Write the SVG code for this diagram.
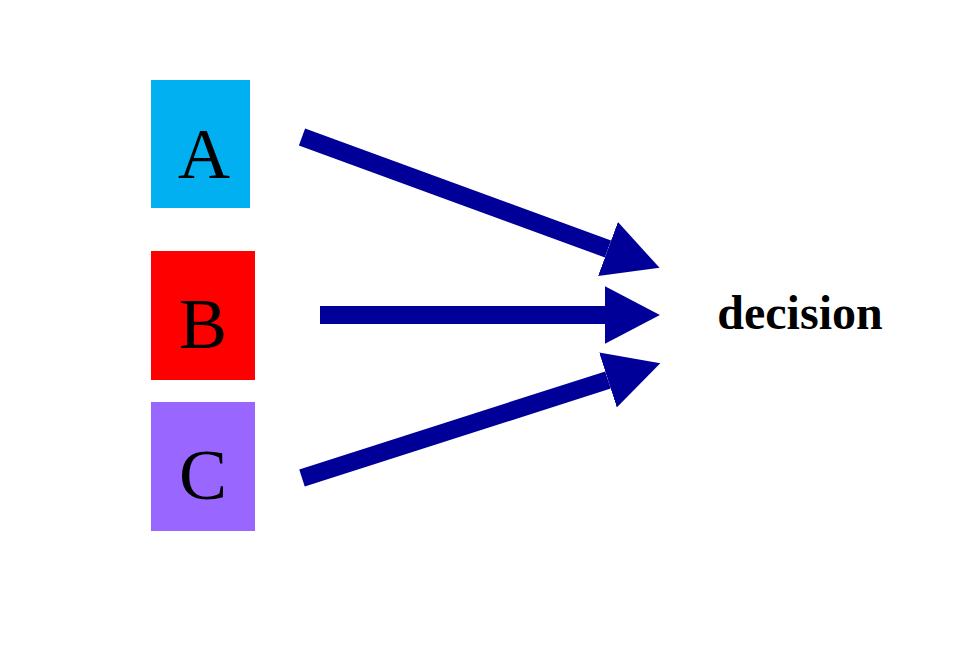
<svg xmlns="http://www.w3.org/2000/svg" width="977" height="667" viewBox="0 0 977 667">
<style>
.lbl{font-family:"Liberation Serif",serif;font-size:72px;fill:#000;text-anchor:middle}
.conn{stroke:#000099;stroke-width:18;fill:none;marker-end:url(#ah)}
</style>
<defs>
<marker id="ah" markerUnits="strokeWidth" markerWidth="3.1" markerHeight="3.2" refX="0" refY="1.6" orient="auto">
<path d="M0,0 L3.05,1.6 L0,3.2 z" fill="#000099"/>
</marker>
</defs>
<rect width="977" height="667" fill="#fff"/>
<g id="A"><rect x="151" y="80" width="99" height="128" fill="#00B0F0"/><text class="lbl" x="204" y="178">A</text></g>
<g id="B"><rect x="151" y="251" width="104" height="129" fill="#FF0000"/><text class="lbl" x="203" y="348">B</text></g>
<g id="C"><rect x="151" y="402" width="104" height="129" fill="#9966FF"/><text class="lbl" x="203" y="499">C</text></g>
<g id="decision"><text x="800" y="329" font-family="Liberation Serif,serif" font-weight="bold" font-size="48" text-anchor="middle">decision</text></g>
<g id="connectors">
<line class="conn" x1="302" y1="137" x2="608" y2="249"/>
<line class="conn" x1="320" y1="315" x2="605" y2="315"/>
<line class="conn" x1="302" y1="478" x2="608" y2="380"/>
</g>
</svg>
